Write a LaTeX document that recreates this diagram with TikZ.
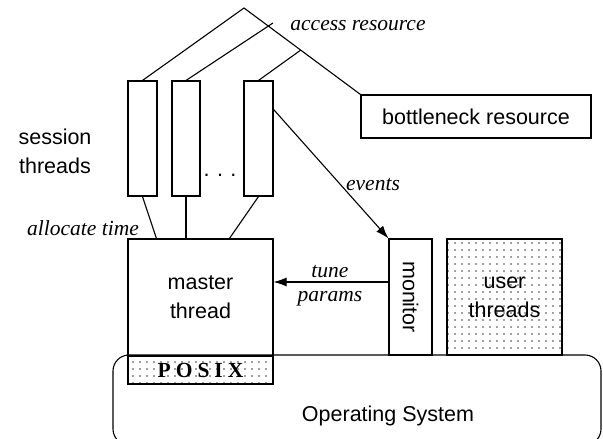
\documentclass[tikz,border=0pt]{standalone}
\usepackage{fontspec}
\setmainfont{Liberation Serif}
\setsansfont{Liberation Sans}
\usetikzlibrary{arrows.meta,patterns.meta,calc}

\begin{document}
\begin{tikzpicture}[x=1pt,y=-1pt,line width=1.1pt,
  box/.style={draw,rectangle,inner sep=0pt,align=center,
    font=\sffamily\fontsize{21.5}{29}\selectfont},
  lbl/.style={inner sep=0pt,font=\itshape\fontsize{21.5}{26}\selectfont},
  dotfill/.style={pattern={Dots[distance=7pt,radius=0.8pt]},pattern color=black!75},
  arr/.style={-{Latex[length=13pt,width=9pt]}}
]
\useasboundingbox (0,0) rectangle (603,439);

% operating system
\node (os) [draw,rounded corners=16pt,minimum width=488pt,minimum height=90pt] at (357,400) {};
\node (ostext) [font=\sffamily\fontsize{21.5}{26}\selectfont,inner sep=0pt] at (388,416) {Operating System};

% session threads
\node (s1) [box,minimum width=29pt,minimum height=115pt] at (142.5,138.5) {};
\node (s2) [box,minimum width=28pt,minimum height=115pt] at (186,138.5) {};
\node (s3) [box,minimum width=29pt,minimum height=115pt] at (258.5,138.5) {};
\node (dots) [inner sep=0pt,font=\sffamily\fontsize{21.5}{26}\selectfont] at (220,175) {.\kern7.5pt.\kern7.5pt.};
\node (sess) [inner sep=0pt,align=center,font=\sffamily\fontsize{21.5}{29}\selectfont] at (55,151) {session\\threads};

% master thread and POSIX layer
\node (master) [box,minimum width=145pt,minimum height=117pt] at (200.5,297.5) {master\\thread};
\node (posix) [box,minimum width=145pt,minimum height=28pt,preaction={fill=white},dotfill,
  font=\rmfamily\bfseries\fontsize{21.5}{26}\selectfont] at (200.5,370)
  {P\kern5pt O\kern5pt S\kern5pt I\kern5pt X};

% monitor (text runs top to bottom) and user threads
\node (monitor) [box,rotate=-90,minimum width=116pt,minimum height=43pt] at (410.5,297) {monitor};
\node (user) [box,dotfill,minimum width=115pt,minimum height=116pt] at (504.5,297) {user\\threads};

% bottleneck resource
\node (bott) [box,minimum width=230pt,minimum height=43pt] at (476,116.5) {bottleneck resource};

% access resource tree
\coordinate (apex) at (244,8);
\coordinate (c2) at (273,23);
\coordinate (c3) at ($(apex)!0.487!(bott.north west)$);
\draw (s1.north) -- (apex) -- (bott.north west);
\draw (s2.north) -- (c2);
\draw (s3.north) -- (c3);
\node (acc) [lbl] at (358,26) {access resource};

% allocate time
\draw (s1.south) -- ($(master.north west)+(29,0)$);
\draw (s2.south) -- (s2.south |- master.north);
\draw (s3.south) -- ($(master.north west)+(102,0)$);
\node (alloc) [lbl] at (83,228) {allocate time};

% events and tuning (the rotated monitor's south side faces left)
\draw[arr] ($(s3.north east)+(0,29)$) -- (monitor.south west);
\node (ev) [lbl] at (373,185) {events};
\draw[arr] (monitor.south |- 0,282) -- (master.east |- 0,282);
\node (tune) [lbl] at (330,272) {tune};
\node (params) [lbl] at (330,299) {params};
\end{tikzpicture}
\end{document}
